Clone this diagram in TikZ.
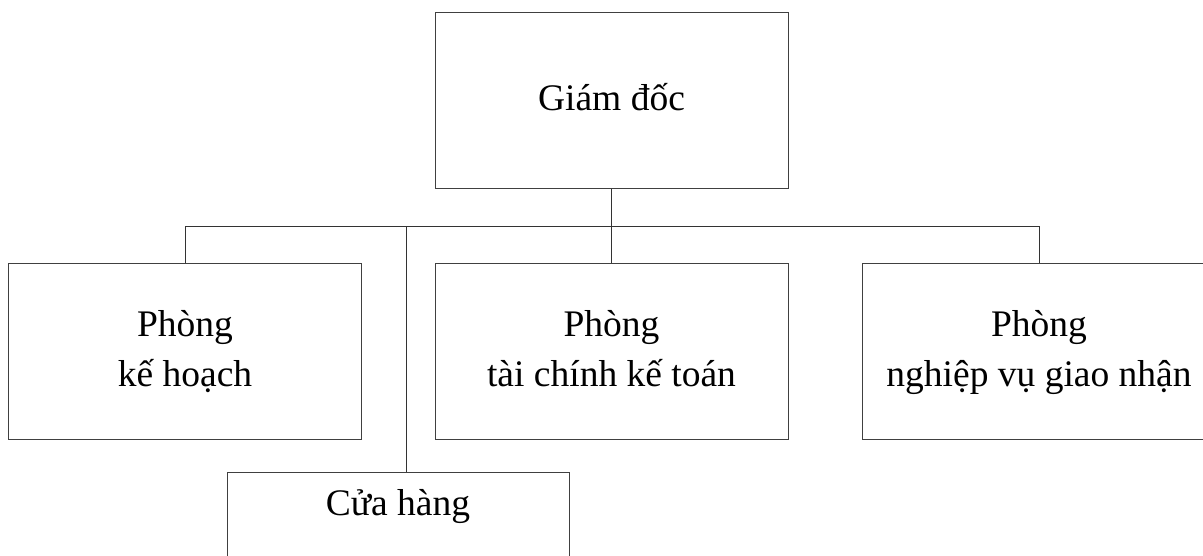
\documentclass[tikz,border=0pt]{standalone}
\usepackage{fontspec}
\setmainfont{Liberation Serif}
\usetikzlibrary{positioning}

\begin{document}
\begin{tikzpicture}[x=1pt, y=-1pt,
        box/.style={draw=black!75, line width=0.9pt, minimum width=353pt, minimum height=176pt, align=center, font=\fontsize{37.5}{50}\selectfont},
        link/.style={draw=black!80, line width=0.9pt}]
        \useasboundingbox (0,0) rectangle (1203,555);
        \node[box] (gd) at (611.5,100.5) {\strut Giám đốc};
        \node[box] (kh) at (185,351) {\strut Phòng\\\strut kế hoạch};
        \node[box] (tc) at (611.5,351) {\strut Phòng\\\strut tài chính kế toán};
        \node[box] (nv) at (1039,351) {\strut Phòng\\\strut nghiệp vụ giao nhận};
        \node[box, anchor=north, minimum width=342pt, minimum height=0pt, inner ysep=18pt, text height=25pt, text depth=80pt] (ch) at (398,472) {Cửa hàng};
        \coordinate (j1) at (185,226);
        \coordinate (j3) at (1039,226);
        \coordinate (j4) at (406,226);
        \draw[link] (gd.south) -- (tc.north);
        \draw[link] (j1) -- (j3);
        \draw[link] (j1) -- (kh.north);
        \draw[link] (j3) -- (nv.north);
        \draw[link] (j4) -- (j4 |- ch.north);
\end{tikzpicture}
\end{document}
